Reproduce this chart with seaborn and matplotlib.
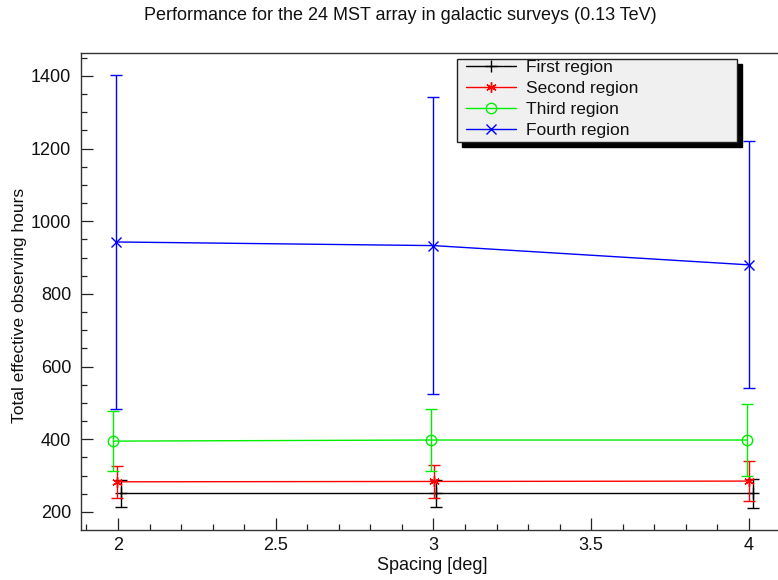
import numpy as np
import pandas as pd
import matplotlib
matplotlib.use("Agg")
import matplotlib.pyplot as plt
from matplotlib.patches import Rectangle
from matplotlib.ticker import MultipleLocator, FixedLocator, FixedFormatter
import seaborn as sns

# ---- data ----
regions = ["First region", "Second region", "Third region", "Fourth region"]
x_first = [2.008, 3.008, 4.012]
x_second = [1.998, 3.002, 4.0]
x_third = [1.985, 2.993, 3.994]
x_fourth = [1.995, 3.0, 4.0]
y_first = [252, 252, 252]
e_first = [37, 37, 40]
y_second = [283, 284, 285]
e_second = [44, 46, 55]
y_third = [395, 398, 398]
e_third = [82, 86, 98]
y_fourth = [943, 933, 880]
e_fourth = [460, 408, 340]
xtick_vals = [2, 2.5, 3, 3.5, 4]
xtick_labels = ["2", "2.5", "3", "3.5", "4"]
ytick_vals = [200, 400, 600, 800, 1000, 1200, 1400]

sns.set_theme(style="white")
plt.rcParams["font.family"] = ["Liberation Sans", "DejaVu Sans"]

W, H = 778, 580
fig = plt.figure(figsize=(W / 100, H / 100), dpi=100)
fig.patch.set_facecolor("white")
L, R, T, B = 81, 778, 53, 530
ax = fig.add_axes([L / W, 1 - B / H, (R - L) / W, (B - T) / H])
ax.set_facecolor("white")

series = [
    (regions[0], x_first, y_first, e_first, "black", "+", dict(markersize=9, markeredgewidth=1.0)),
    (regions[1], x_second, y_second, e_second, "#ff0000", (6, 2, 0), dict(markersize=7.5, markeredgewidth=1.0)),
    (regions[2], x_third, y_third, e_third, "#00ee00", "o", dict(markersize=7.5, markeredgewidth=1.0, markerfacecolor="none")),
    (regions[3], x_fourth, y_fourth, e_fourth, "#0000ff", "x", dict(markersize=6.5, markeredgewidth=1.0)),
]

for name, xs, ys, es, col, mk, mkw in series:
    df = pd.DataFrame({"x": xs, "y": ys})
    sns.lineplot(data=df, x="x", y="y", ax=ax, color=col, marker=mk,
                 markeredgecolor=col, linewidth=1.0, label=name, legend=False,
                 zorder=3, **mkw)
    ax.errorbar(xs, ys, yerr=es, fmt="none", ecolor=col, elinewidth=1.0,
                capsize=4, capthick=1.0, zorder=3)

line_handles = [l for l in ax.lines if l.get_label() in regions]

ax.set_xlim(1.8827, 4.092)
ax.set_ylim(150.4, 1463)

ax.xaxis.set_major_locator(FixedLocator(xtick_vals))
ax.xaxis.set_major_formatter(FixedFormatter(xtick_labels))
ax.xaxis.set_minor_locator(MultipleLocator(0.1))
ax.yaxis.set_major_locator(FixedLocator(ytick_vals))
ax.yaxis.set_minor_locator(MultipleLocator(50))

ax.tick_params(axis="both", which="both", direction="in", color="#222222",
               labelcolor="#111111", labelsize=13)
ax.tick_params(axis="both", which="major", length=8.5, width=0.9)
ax.tick_params(axis="both", which="minor", length=4.3, width=0.9)
ax.tick_params(axis="x", which="both", bottom=True, top=False, pad=5)
ax.tick_params(axis="y", which="both", left=True, right=False, pad=7)

for side in ["left", "bottom", "top"]:
    ax.spines[side].set_visible(True)
    ax.spines[side].set_color("#333333")
    ax.spines[side].set_linewidth(1.0)
ax.spines["right"].set_visible(False)

ax.set_xlabel("Spacing [deg]", fontsize=13, va="center", color="#111111")
ax.xaxis.set_label_coords((432 - L) / (R - L), -(565 - B) / (B - T))
ax.set_ylabel("Total effective observing hours", fontsize=12.5, va="center",
              color="#111111")
ax.yaxis.set_label_coords((20 - L) / (R - L), (B - 305) / (B - T))

fig.text(400.5 / W, 1 - 15 / H, "Performance for the 24 MST array in galactic surveys (0.13 TeV)",
         ha="center", va="center", fontsize=13, color="#111111")

# legend box with ROOT-style shadow (pixel coords -> figure fraction)
lx0, lx1, ly0, ly1 = 457, 737, 59, 142
sh = 5
ax.add_patch(Rectangle(((lx0 + sh) / W, 1 - (ly1 + sh) / H), (lx1 - lx0) / W, (ly1 - ly0) / H,
                       transform=fig.transFigure, facecolor="black", edgecolor="black",
                       zorder=4.7, clip_on=False))
ax.add_patch(Rectangle((lx0 / W, 1 - ly1 / H), (lx1 - lx0) / W, (ly1 - ly0) / H,
                       transform=fig.transFigure, facecolor="#f0f0f0", edgecolor="#222222",
                       linewidth=1.0, zorder=4.8, clip_on=False))
fs = 12.5
fpx = fs * 100 / 72
leg = ax.legend(handles=line_handles, labels=regions, loc="upper left",
                bbox_to_anchor=(466 / W, 1 - 60 / H), bbox_transform=fig.transFigure,
                frameon=False, fontsize=fs, borderpad=0, borderaxespad=0,
                handlelength=50 / fpx, handletextpad=10 / fpx, labelspacing=0.33)
leg.set_zorder(5)
for t in leg.get_texts():
    t.set_color("#111111")

fig.savefig("out.png", dpi=100, facecolor="white")
